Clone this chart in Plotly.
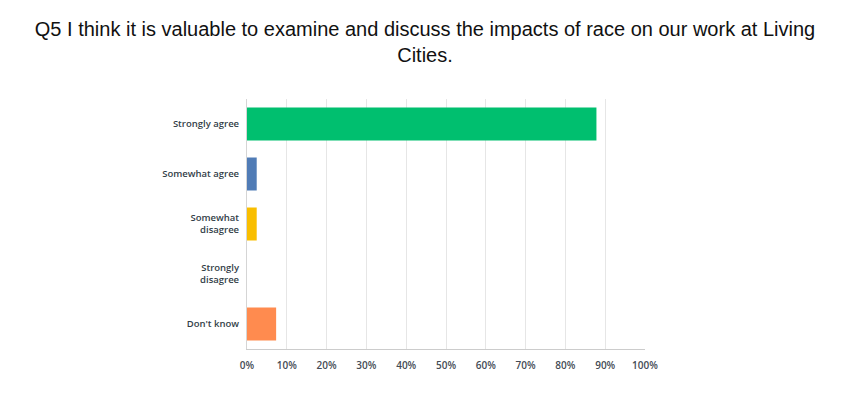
import plotly.graph_objects as go

categories = ["Strongly agree", "Somewhat agree", "Somewhat<br>disagree", "Strongly<br>disagree", "Don't know"]
values = [87.80, 2.44, 2.44, 0.0, 7.32]
colors = ["#00BF6F", "#507CB6", "#F9BE00", "#A0A0A0", "#FF8B4F"]
tick_vals = [0, 10, 20, 30, 40, 50, 60, 70, 80, 90, 100]
tick_text = ["0%", "10%", "20%", "30%", "40%", "50%", "60%", "70%", "80%", "90%", "100%"]
title_text = "Q5 I think it is valuable to examine and discuss the impacts of race on our work at Living<br>Cities."

W, H = 834, 377

fig = go.Figure(go.Bar(
    x=values, y=categories, orientation="h",
    marker=dict(color=colors, line=dict(width=0)),
    width=0.66, hoverinfo="x+y",
))

fig.update_layout(
    width=W, height=H,
    paper_bgcolor="white", plot_bgcolor="white",
    margin=dict(l=239, r=197, t=91, b=36),
    showlegend=False,
    title=dict(text=title_text, x=0.5, xanchor="center", xref="container",
               y=1 - 28 / H, yanchor="top", yref="container",
               font=dict(family="Liberation Sans, Arial, sans-serif", size=20, color="#111111")),
    xaxis=dict(range=[0, 100], tickvals=tick_vals, ticktext=tick_text,
               showgrid=True, gridcolor="#E6E6E6", gridwidth=1,
               showline=True, linecolor="#CCCCCC", linewidth=1,
               zeroline=False, ticks="", ticklabelstandoff=7,
               tickfont=dict(family="Open Sans, sans-serif", size=10, color="#444B55", weight=600),
               fixedrange=True),
    yaxis=dict(autorange="reversed", showline=True, linecolor="#D5D5D5", linewidth=1,
               ticks="", ticklabelstandoff=5, showgrid=False,
               tickfont=dict(family="Open Sans, sans-serif", size=9.5, color="#333E48", weight=600),
               fixedrange=True),
)

fig.write_html("out.html")
